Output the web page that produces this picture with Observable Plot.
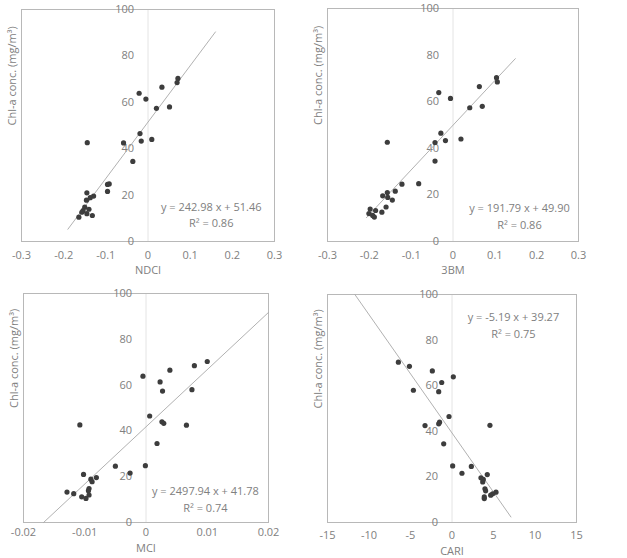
<!DOCTYPE html>
<html>
<head>
<meta charset="utf-8">
<script src="https://cdn.jsdelivr.net/npm/d3@7"></script>
<script src="https://cdn.jsdelivr.net/npm/@observablehq/plot@0.6"></script>
<style>
  html, body { margin: 0; padding: 0; background: #fff; }
  #wrap { position: relative; width: 627px; height: 558px; overflow: hidden; font-family: "Open Sans", sans-serif; }
  #wrap > svg { position: absolute; }
</style>
</head>
<body>
<div id="wrap"></div>
<script>
// Chl-a concentration (mg/m³) for each sample
const chl  = [70.3, 68.5, 66.5, 63.9, 61.4, 58.0, 57.4, 46.5, 44.0, 43.3, 42.6, 42.5, 34.5, 24.8, 24.6, 21.6, 21.0, 19.6, 18.9, 17.8, 14.8, 13.9, 13.3, 12.6, 12.0, 11.2, 10.5];
// Index values for each sample
const ndci = [0.071, 0.069, 0.033, -0.021, -0.005, 0.051, 0.020, -0.019, 0.009, -0.016, -0.144, -0.058, -0.036, -0.092, -0.096, -0.096, -0.145, -0.129, -0.137, -0.146, -0.150, -0.140, -0.154, -0.157, -0.145, -0.132, -0.164];
const bm3  = [0.104, 0.106, 0.063, -0.034, -0.006, 0.070, 0.040, -0.029, 0.019, -0.018, -0.157, -0.043, -0.043, -0.082, -0.122, -0.138, -0.157, -0.168, -0.156, -0.145, -0.160, -0.198, -0.185, -0.170, -0.201, -0.192, -0.188];
const mci  = [0.0100, 0.0079, 0.0039, -0.0005, 0.0023, 0.0075, 0.0027, 0.0006, 0.0026, 0.0029, -0.0108, 0.0066, 0.0018, -0.0001, -0.0050, -0.0026, -0.0102, -0.0081, -0.0090, -0.0088, -0.0093, -0.0094, -0.0129, -0.0118, -0.0093, -0.0105, -0.0098];
const cari = [-6.46, -5.13, -2.37, 0.16, -1.24, -4.65, -1.60, -0.36, -1.50, -1.60, 4.57, -3.25, -1.00, 0.08, 2.33, 1.20, 4.25, 3.49, 3.77, 3.70, 3.97, 4.05, 5.30, 4.90, 4.66, 3.89, 3.89];

// Axis ticks
const yTicks = [0, 20, 40, 60, 80, 100];
const xTicksBand = [-0.3, -0.2, -0.1, 0, 0.1, 0.2, 0.3];
const xTicksMCI = [-0.02, -0.01, 0, 0.01, 0.02];
const xTicksCARI = [-15, -10, -5, 0, 5, 10, 15];

// Panel labels and regression results
const xLabels = ["NDCI", "3BM", "MCI", "CARI"];
const yLabel = "Chl-a conc. (mg/m³)";
const slopes = [242.98, 191.79, 2497.94, -5.19];
const intercepts = [51.46, 49.90, 41.78, 39.27];
const equations = ["y = 242.98 x + 51.46", "y = 191.79 x + 49.90", "y = 2497.94 x + 41.78", "y = -5.19 x + 39.27"];
const r2Labels = ["R² = 0.86", "R² = 0.86", "R² = 0.74", "R² = 0.75"];
// Extent of each trend line along x
const trendExtents = [[-0.19, 0.16], [-0.207, 0.149], [-0.01673, 0.02], [-11.7, 7.1]];
// Where each equation label sits (data units: x, y of equation, y of R²)
const eqPlacement = [[0.15, 14.7, 7.8], [0.159, 14.2, 6.9], [0.0097, 13.5, 6.1], [7.4, 89.9, 82.5]];

const TEXT = "#808080";
const FONT = "Open Sans, sans-serif";

const panels = [
  {xs: ndci, ticks: xTicksBand, left: 0,   top: 0,   w: 313, h: 279, m: [9, 39, 38, 21], pad: 10, tOff: 32},
  {xs: bm3,  ticks: xTicksBand, left: 313, top: 0,   w: 314, h: 279, m: [8, 49, 38, 14], pad: 10, tOff: 32},
  {xs: mci,  ticks: xTicksMCI,  left: 0,   top: 279, w: 313, h: 279, m: [14, 45, 36, 23], pad: 6, tOff: 29},
  {xs: cari, ticks: xTicksCARI, left: 313, top: 279, w: 314, h: 279, m: [15, 51, 36, 14], pad: 9, tOff: 32}
];

const wrap = document.getElementById("wrap");

panels.forEach((p, i) => {
  const pts = chl.map((c, k) => ({x: p.xs[k], y: c}));
  const trend = trendExtents[i].map(x => ({x, y: slopes[i] * x + intercepts[i]}));
  const [ex, ey, ry] = eqPlacement[i];
  const chart = Plot.plot({
    width: p.w,
    height: p.h,
    marginTop: p.m[0], marginRight: p.m[1], marginBottom: p.m[2], marginLeft: p.m[3],
    style: {fontFamily: FONT, fontSize: "11px", color: TEXT, background: "transparent"},
    x: {domain: [p.ticks[0], p.ticks[p.ticks.length - 1]], axis: null},
    y: {domain: [0, 100], axis: null},
    marks: [
      Plot.ruleX([0], {stroke: "#e4e4e4", strokeWidth: 1}),
      Plot.frame({stroke: "#b8b8b8", strokeWidth: 1}),
      Plot.axisX(p.ticks, {tickSize: 0, tickPadding: p.pad, tickFormat: d => String(d), label: null, fill: TEXT, fontSize: 11}),
      Plot.text(yTicks, {x: 0, y: d => d, text: d => String(d), textAnchor: "end", dx: -14, fill: TEXT, fontSize: 11}),
      Plot.line(trend, {x: "x", y: "y", stroke: "#a8a8a8", strokeWidth: 0.9}),
      Plot.dot(pts, {x: "x", y: "y", r: 2.6, fill: "#3d3d3d", stroke: "none"}),
      Plot.text([equations[i]], {x: ex, y: ey, text: d => d, fill: TEXT, fontSize: 11}),
      Plot.text([r2Labels[i]], {x: ex, y: ry, text: d => d, fill: TEXT, fontSize: 11}),
      Plot.text([xLabels[i]], {frameAnchor: "bottom", dy: p.tOff, text: d => d, fill: TEXT, fontSize: 11}),
      Plot.text([yLabel], {frameAnchor: "left", rotate: -90, dx: -9, text: d => d, fill: TEXT, fontSize: 11})
    ]
  });
  chart.style.left = p.left + "px";
  chart.style.top = p.top + "px";
  chart.style.overflow = "visible";
  wrap.appendChild(chart);
});
</script>
</body>
</html>
